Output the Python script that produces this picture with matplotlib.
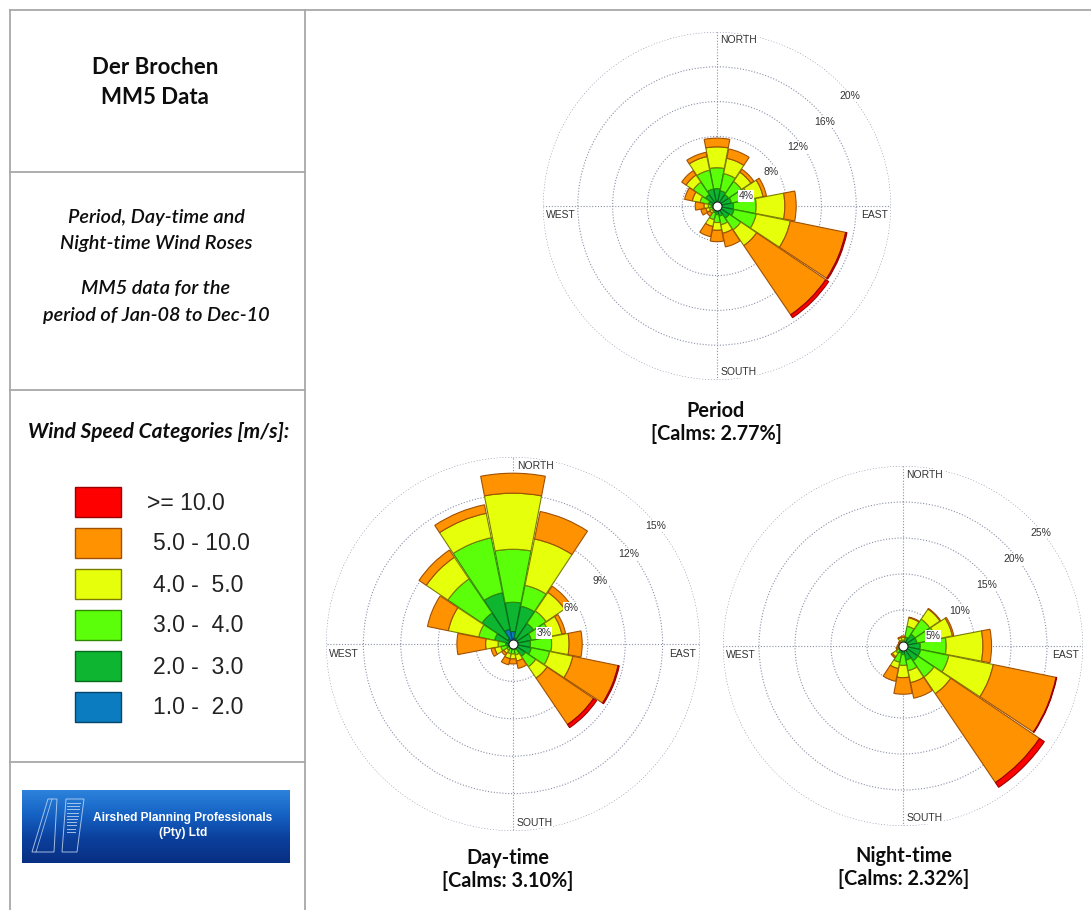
import numpy as np
import matplotlib.pyplot as plt
from matplotlib.lines import Line2D
from matplotlib.patches import Rectangle, Polygon
from matplotlib.colors import LinearSegmentedColormap

FIG_W, FIG_H = 1091, 910

# 16 compass sectors, N clockwise to NNW
bearings = np.arange(16) * 22.5

speed_labels = ['1.0 -  2.0', '2.0 -  3.0', '3.0 -  4.0', '4.0 -  5.0', '5.0 - 10.0', '>= 10.0']
speed_colors = ['#0a7cbf', '#0db530', '#5cff0a', '#e6ff0a', '#ff9200', '#ff0000']
speed_edges = ['#04456b', '#066b1c', '#2f8a00', '#7c7c00', '#a05000', '#9a0000']

# cumulative frequency (%) at the top of each speed class, one row per class
period_cum = [
    [0.2, 0.2, 0.2, 0.2, 0.2, 0.2, 0.2, 0.2, 0.2, 0.1, 0.1, 0.1, 0.1, 0.1, 0.2, 0.2],
    [2.0, 1.8, 1.6, 1.7, 1.9, 2.0, 1.7, 1.2, 1.0, 0.8, 0.4, 0.5, 0.6, 1.0, 1.6, 2.0],
    [4.4, 3.8, 3.4, 3.7, 4.5, 4.6, 3.3, 2.2, 1.9, 1.6, 0.7, 0.9, 1.0, 2.0, 3.3, 4.2],
    [6.8, 5.6, 4.7, 5.4, 7.8, 8.6, 5.5, 3.2, 2.8, 2.4, 1.0, 1.3, 1.5, 2.9, 4.3, 5.8],
    [7.8, 6.7, 5.1, 5.8, 9.1, 15.1, 15.1, 4.8, 4.1, 3.6, 1.4, 1.9, 2.5, 3.8, 4.9, 6.3],
    [7.8, 6.7, 5.1, 5.8, 9.1, 15.25, 15.5, 4.8, 4.1, 3.6, 1.4, 1.9, 2.5, 3.8, 4.9, 6.3],
]
day_cum = [
    [1.0, 0.5, 0.3, 0.3, 0.3, 0.3, 0.2, 0.1, 0.1, 0.1, 0.1, 0.1, 0.2, 0.3, 0.5, 1.2],
    [3.35, 3.1, 2.0, 1.5, 1.4, 1.5, 1.2, 0.5, 0.4, 0.4, 0.3, 0.5, 0.6, 1.5, 3.0, 4.2],
    [7.6, 4.8, 3.2, 3.0, 3.1, 3.0, 2.2, 0.9, 0.8, 0.8, 0.6, 1.0, 1.2, 2.8, 6.3, 8.7],
    [12.1, 8.6, 5.0, 4.0, 4.5, 4.9, 3.3, 1.4, 1.2, 1.2, 0.9, 1.5, 2.2, 5.3, 8.4, 10.7],
    [13.7, 10.85, 5.6, 4.3, 5.55, 8.6, 7.8, 2.0, 1.6, 1.7, 1.1, 1.8, 4.5, 7.0, 9.1, 11.4],
    [13.7, 10.85, 5.6, 4.3, 5.55, 8.7, 8.1, 2.0, 1.6, 1.7, 1.1, 1.8, 4.5, 7.0, 9.1, 11.4],
]
night_cum = [
    [0.1, 0.1, 0.1, 0.1, 0.1, 0.1, 0.1, 0.1, 0.1, 0.1, 0.1, 0.1, 0.1, 0.1, 0.1, 0.1],
    [0.4, 1.3, 2.0, 2.0, 2.4, 2.5, 2.5, 2.0, 1.2, 1.0, 0.6, 0.4, 0.3, 0.3, 0.3, 0.4],
    [0.8, 2.8, 4.5, 4.6, 6.0, 6.5, 5.2, 3.5, 2.7, 2.3, 1.2, 0.7, 0.5, 0.5, 0.5, 0.8],
    [1.2, 4.0, 6.2, 7.0, 11.1, 12.8, 8.0, 5.2, 4.4, 3.2, 1.8, 0.9, 0.7, 0.6, 0.7, 1.2],
    [1.4, 4.1, 6.3, 7.2, 12.3, 21.7, 22.9, 7.4, 6.7, 5.0, 2.0, 1.0, 0.8, 0.7, 0.8, 1.3],
    [1.4, 4.1, 6.3, 7.2, 12.3, 21.8, 23.7, 7.4, 6.7, 5.0, 2.0, 1.0, 0.8, 0.7, 0.8, 1.3],
]

period_rings = [4, 8, 12, 16, 20]
day_rings = [3, 6, 9, 12, 15]
night_rings = [5, 10, 15, 20, 25]

period_calm = 2.77
day_calm = 3.10
night_calm = 2.32

GRID = '#8a90a8'
PANEL = 'Lato'
ARIAL = 'Liberation Sans'
INK = '#0d0d0d'


def fx(x):
    return x / FIG_W


def fy(y):
    return 1 - y / FIG_H


def wind_rose(fig, cx, cy, radius, cum, rings):
    ax = fig.add_axes([fx(cx - radius), fy(cy + radius), 2 * radius / FIG_W, 2 * radius / FIG_H],
                      projection='polar')
    ax.set_theta_zero_location('N')
    ax.set_theta_direction(-1)
    ax.set_facecolor('none')

    theta = np.deg2rad(bearings)
    width = np.deg2rad(22.5) * 0.97
    bottom = np.zeros(len(bearings))
    for k in range(len(cum)):
        top = np.array(cum[k])
        h = top - bottom
        keep = h > 0
        ax.bar(theta[keep], h[keep], width=width, bottom=bottom[keep],
               color=speed_colors[k], edgecolor=speed_edges[k], linewidth=0.8, zorder=2)
        bottom = top
    ax.plot(0, 0, 'o', ms=6.5, mfc='white', mec='#222222', mew=0.8, zorder=4)

    ax.set_ylim(0, rings[-1])
    ax.set_yticks(rings)
    ax.set_yticklabels([])
    ax.set_xticks(np.deg2rad([0, 90, 180, 270]))
    ax.set_xticklabels([])
    ax.set_axisbelow(True)
    ax.grid(color=GRID, linestyle=(0, (1, 1.6)), linewidth=0.8)
    ax.spines['polar'].set_visible(False)

    # ring labels run out towards the north-east
    for r, b, f in zip(rings, [71, 58, 54, 52, 50.5], [0.88, 0.92, 0.96, 0.98, 0.99]):
        ax.text(np.deg2rad(b), r * f, f'{r}%', fontsize=7.5, family=ARIAL, color='#333333',
                ha='center', va='center', zorder=5,
                bbox=dict(facecolor='white', edgecolor='none', pad=0.6))

    compass = dict(fontsize=7.5, family=ARIAL, color='#333333', transform=ax.transAxes,
                   va='center', zorder=5, bbox=dict(facecolor='white', edgecolor='none', pad=0.4))
    ax.text(0.51, 0.976, 'NORTH', ha='left', **compass)
    ax.text(0.51, 0.022, 'SOUTH', ha='left', **compass)
    ax.text(0.99, 0.474, 'EAST', ha='right', **compass)
    ax.text(0.008, 0.474, 'WEST', ha='left', **compass)
    return ax


def rose_title(fig, x, y, name, calm):
    fig.text(fx(x), fy(y), name, family=PANEL, weight='bold', fontsize=14.3,
             ha='center', va='center', color=INK)
    fig.text(fx(x), fy(y + 23), f'[Calms: {calm:.2f}%]', family=PANEL, weight='bold',
             fontsize=14.3, ha='center', va='center', color=INK)


def line(fig, x0, y0, x1, y1):
    fig.add_artist(Line2D([fx(x0), fx(x1)], [fy(y0), fy(y1)], transform=fig.transFigure,
                          color='#a8a8a8', linewidth=1.3))


fig = plt.figure(figsize=(FIG_W / 100, FIG_H / 100), dpi=100)
fig.patch.set_facecolor('white')

# frame of the information panel
line(fig, 10, 10, FIG_W, 10)
line(fig, 10, 10, 10, FIG_H)
line(fig, 305, 10, 305, FIG_H)
for y in [172, 390, 762]:
    line(fig, 10, y, 305, y)

fig.text(fx(155), fy(68), 'Der Brochen', family=PANEL, weight='bold', fontsize=16,
         ha='center', va='center', color=INK)
fig.text(fx(155), fy(97), 'MM5 Data', family=PANEL, weight='bold', fontsize=16,
         ha='center', va='center', color=INK)

for y, s in [(217, 'Period, Day-time and'), (243, 'Night-time Wind Roses'),
             (289, 'MM5 data for the'), (315, 'period of Jan-08 to Dec-10')]:
    fig.text(fx(156), fy(y), s, family=PANEL, style='italic', weight='semibold', fontsize=14.3,
             ha='center', va='center', color=INK)

fig.text(fx(159), fy(432), 'Wind Speed Categories [m/s]:', family=PANEL, style='italic',
         weight='bold', fontsize=15, ha='center', va='center', color=INK)

# legend, strongest class on top
for i, k in enumerate(range(len(speed_labels) - 1, -1, -1)):
    top = 487 + 41 * i
    fig.add_artist(Rectangle((fx(75), fy(top + 30)), 46 / FIG_W, 30 / FIG_H,
                             transform=fig.transFigure, facecolor=speed_colors[k],
                             edgecolor=speed_edges[k], linewidth=1.0))
    tx = 147 if speed_labels[k].startswith('>') else 153
    fig.text(fx(tx), fy(top + 16), speed_labels[k], family=ARIAL, fontsize=16.5,
             ha='left', va='center', color='#222222')

# company logo
logo = fig.add_axes([fx(22), fy(863), 268 / FIG_W, 73 / FIG_H])
grad = np.linspace(0, 1, 200).reshape(-1, 1)
cmap = LinearSegmentedColormap.from_list('logo', ['#2d83dc', '#1562c4', '#0b3f9c', '#082f82'])
logo.imshow(grad, cmap=cmap, aspect='auto', extent=[0, 268, 73, 0])
logo.set_xlim(0, 268)
logo.set_ylim(73, 0)
logo.axis('off')
mark = dict(fill=False, edgecolor='#c8dcf4', linewidth=0.7, alpha=0.8)
logo.add_patch(Polygon([(10, 62), (26, 9), (35, 9), (32, 62)], closed=True, **mark))
logo.add_patch(Polygon([(40, 62), (44, 9), (62, 9), (55, 62)], closed=True, **mark))
logo.plot([14, 30], [62, 9], color='#c8dcf4', lw=0.6, alpha=0.8)
for j, yy in enumerate(np.arange(13, 42, 3.2)):
    logo.plot([45, 58 - j * 0.6], [yy, yy], color='#c8dcf4', lw=0.7, alpha=0.8)
logo.text(161, 28, 'Airshed Planning Professionals', family=ARIAL, weight='bold',
          fontsize=8.6, color='white', ha='center', va='center')
logo.text(161, 43, '(Pty) Ltd', family=ARIAL, weight='bold',
          fontsize=8.6, color='white', ha='center', va='center')

wind_rose(fig, 717, 206, 174, period_cum, period_rings)
wind_rose(fig, 513, 644, 187, day_cum, day_rings)
wind_rose(fig, 903, 646, 180, night_cum, night_rings)

rose_title(fig, 716, 411, 'Period', period_calm)
rose_title(fig, 508, 858, 'Day-time', day_calm)
rose_title(fig, 904, 856, 'Night-time', night_calm)

fig.savefig('out.png', dpi=100, facecolor='white')
